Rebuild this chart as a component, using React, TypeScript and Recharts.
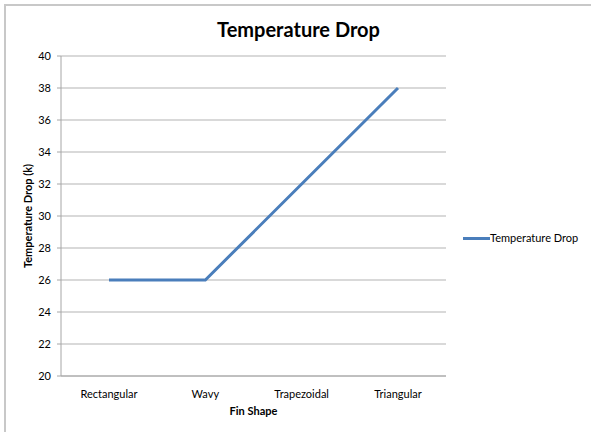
import React from "react";
import { LineChart, Line, XAxis, YAxis, CartesianGrid } from "recharts";

const categories = ["Rectangular", "Wavy", "Trapezoidal", "Triangular"];
const temperatureDrop = [26, 26, 32, 38];
const yTicks = [20, 22, 24, 26, 28, 30, 32, 34, 36, 38, 40];
const seriesName = "Temperature Drop";

const data = categories.map((c, i) => ({ shape: c, value: temperatureDrop[i] }));

const FONT = "Lato, 'Open Sans', sans-serif";
const LINE_COLOR = "#4A7EBB";

const YLabel = (props: any) => {
  const { viewBox } = props;
  const cy = viewBox.y + viewBox.height / 2;
  return (
    <text
      x={27}
      y={cy}
      transform={`rotate(-90, 27, ${cy})`}
      textAnchor="middle"
      dominantBaseline="central"
      fontFamily={FONT}
      fontWeight="bold"
      fontSize={11}
      fill="#000"
    >
      Temperature Drop (k)
    </text>
  );
};

const XLabel = (props: any) => {
  const { viewBox } = props;
  const cx = viewBox.x + viewBox.width / 2;
  return (
    <text
      x={cx}
      y={410}
      textAnchor="middle"
      dominantBaseline="central"
      fontFamily={FONT}
      fontWeight="bold"
      fontSize={11}
      fill="#000"
    >
      Fin Shape
    </text>
  );
};

export default function App() {
  return (
    <div style={{ position: "absolute", left: 0, top: 0, width: 591, height: 432, background: "#fff", overflow: "hidden" }}>
      <div
        style={{
          position: "absolute",
          left: 4,
          top: 4,
          width: 600,
          height: 440,
          borderLeft: "2px solid #c8c8c8",
          borderTop: "2px solid #c8c8c8",
          boxSizing: "border-box",
        }}
      />
      <div
        style={{
          position: "absolute",
          left: 0,
          top: 17,
          width: 597,
          textAlign: "center",
          fontFamily: FONT,
          fontWeight: "bold",
          fontSize: 20,
          lineHeight: "24px",
          color: "#000",
        }}
      >
        Temperature Drop
      </div>
      <div
        style={{
          position: "absolute",
          left: 463,
          top: 230,
          display: "flex",
          alignItems: "center",
          fontFamily: FONT,
          fontSize: 11,
          lineHeight: "16px",
          color: "#000",
        }}
      >
        <div style={{ width: 27, height: 3, background: LINE_COLOR }} />
        <span>{seriesName}</span>
      </div>
      <div style={{ position: "absolute", left: 0, top: 0 }}>
        <LineChart
          width={591}
          height={432}
          data={data}
          margin={{ top: 56, right: 145, bottom: 26, left: 0 }}
        >
          <CartesianGrid vertical={false} stroke="#b3b3b3" strokeWidth={1} />
          <XAxis
            dataKey="shape"
            padding={{ left: 48, right: 48 }}
            interval={0}
            axisLine={{ stroke: "#a6a6a6" }}
            tickLine={false}
            tick={{ fontFamily: FONT, fontSize: 11, fill: "#000" }}
            tickMargin={8}
            height={30}
            label={<XLabel />}
          />
          <YAxis
            domain={[20, 40]}
            ticks={yTicks}
            width={61}
            axisLine={{ stroke: "#a6a6a6" }}
            tickLine={{ stroke: "#a6a6a6" }}
            tickSize={4}
            tick={{ fontFamily: FONT, fontSize: 11, fill: "#000" }}
            tickMargin={6}
            label={<YLabel />}
          />
          <Line
            type="linear"
            dataKey="value"
            name={seriesName}
            stroke={LINE_COLOR}
            strokeWidth={3}
            dot={false}
            isAnimationActive={false}
          />
        </LineChart>
      </div>
    </div>
  );
}
